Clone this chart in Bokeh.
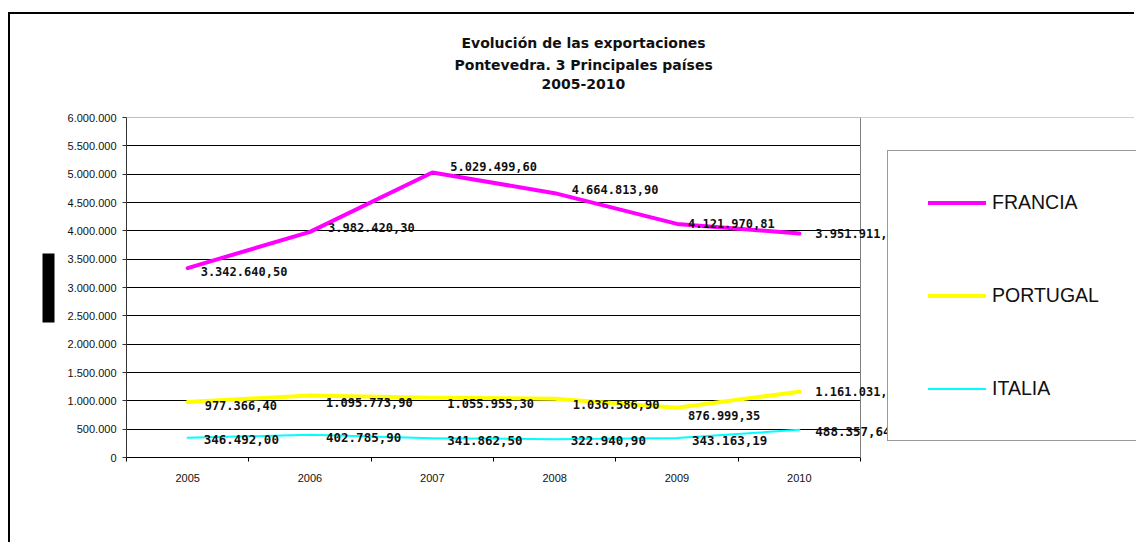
from bokeh.plotting import figure
from bokeh.models import (Range1d, FixedTicker, LinearAxis, ColumnDataSource, LabelSet,
                          Legend, LegendItem, BoxAnnotation, Span, Title,
                          CustomJSTickFormatter)
from bokeh.core.properties import value
from bokeh.embed import file_html
from bokeh.resources import INLINE

# ---------------- data ----------------
years = [2005, 2006, 2007, 2008, 2009, 2010]
francia = [3342640.50, 3982420.30, 5029499.60, 4664813.90, 4121970.81, 3951911.00]
portugal = [977366.40, 1095773.90, 1055955.30, 1036586.90, 876999.35, 1161031.00]
italia = [346492.00, 402785.90, 341862.50, 322940.90, 343163.19, 488357.64]
francia_labels = ["3.342.640,50", "3.982.420,30", "5.029.499,60", "4.664.813,90", "4.121.970,81", "3.951.911,"]
portugal_labels = ["977.366,40", "1.095.773,90", "1.055.955,30", "1.036.586,90", "876.999,35", "1.161.031,"]
italia_labels = ["346.492,00", "402.785,90", "341.862,50", "322.940,90", "343.163,19", "488.357,64"]
series_names = ["FRANCIA", "PORTUGAL", "ITALIA"]
y_ticks = [0, 500000, 1000000, 1500000, 2000000, 2500000, 3000000, 3500000,
           4000000, 4500000, 5000000, 5500000, 6000000]
title_lines = ["Evolución de las exportaciones",
               "Pontevedra. 3 Principales países",
               "2005-2010"]

# label placement (screen-pixel offsets from each point; style only)
francia_lbl_dx = [13, 18, 18, 17, 11, 16]
francia_lbl_dy = [-3, 4, 6, 4, 0, 0]
portugal_lbl_dx = [17, 16, 15, 18, 11, 16]
portugal_lbl_dy = [-3, -7, -6, -6, -8, 0]
italia_lbl_dx = [16, 16, 15, 16, 15, 16]
italia_lbl_dy = [-2, -3, -2, -1, -2, -2]

# ---------------- geometry (page pixels) ----------------
PL, PR, PT, PB = 126, 860, 117, 457     # plot area
ORIGIN_X, ORIGIN_Y = 10, 14             # canvas origin on the page
W, H = 1136 - ORIGIN_X, 530
FRAME_R = ORIGIN_X + W                  # frame runs to the right edge (legend sits inside)
X0, X1, Y0, Y1 = 2004.5, 2010.5, 0, 6000000
XPX = (PR - PL) / (X1 - X0)
YPX = (PB - PT) / (Y1 - Y0)


def dx(px):
    return X0 + (px - PL) / XPX


def dy(py):
    return Y0 + (PB - py) / YPX


p = figure(width=W, height=H, output_backend="svg", toolbar_location=None,
           x_range=Range1d(X0, dx(FRAME_R)), y_range=Range1d(Y0, Y1),
           x_axis_location=None, y_axis_location="left",
           min_border_left=PL - ORIGIN_X, min_border_right=0,
           min_border_top=PT - ORIGIN_Y, min_border_bottom=H - (PB - ORIGIN_Y))
p.styles = {"border-top": "2px solid #000", "border-left": "2px solid #000",
            "margin-top": "12px", "margin-left": "8px"}
p.background_fill_color = "white"
p.border_fill_color = "white"
p.outline_line_color = None

# y axis
yax = p.yaxis[0]
yax.ticker = FixedTicker(ticks=y_ticks)
yax.formatter = CustomJSTickFormatter(
    code="return tick.toFixed(0).replace(/\\B(?=(\\d{3})+(?!\\d))/g, '.');")
yax.major_tick_out = 4
yax.major_tick_in = 0
yax.minor_tick_line_color = None
yax.axis_line_color = "#333333"
yax.major_tick_line_color = "#333333"
yax.major_label_standoff = 6
yax.major_label_text_font = "Liberation Sans"
yax.major_label_text_font_size = "11px"
yax.major_label_text_color = "#111111"

# y axis title, shown as a solid black bar in the original
spacer = LinearAxis(ticker=FixedTicker(ticks=[Y0]), axis_line_color=None,
                    formatter=CustomJSTickFormatter(code="return ''"),
                    major_label_text_font_size="1px", major_label_standoff=0,
                    major_tick_out=16, major_tick_in=0, minor_tick_line_color=None,
                    major_tick_line_color=None)
bar = LinearAxis(ticker=FixedTicker(ticks=[]), axis_line_color="#000000",
                 axis_line_width=12, bounds=(dy(322), dy(253)),
                 major_tick_out=0, major_tick_in=0, minor_tick_line_color=None,
                 major_tick_line_color=None)
p.add_layout(spacer, "left")
p.add_layout(bar, "left")

p.ygrid.ticker = FixedTicker(ticks=y_ticks)
p.ygrid.grid_line_color = "#000000"
p.ygrid.grid_line_width = 1
p.xgrid.visible = False

# x axes: ticks between categories + year labels
tick_axis = LinearAxis(ticker=FixedTicker(ticks=[X0 + i for i in range(7)]),
                       formatter=CustomJSTickFormatter(code="return ''"),
                       bounds=(X0, X1),
                       major_tick_out=4, major_tick_in=0,
                       minor_tick_line_color=None,
                       axis_line_color="#000000", major_tick_line_color="#000000",
                       major_label_standoff=0, major_label_text_font_size="1px")
label_axis = LinearAxis(ticker=FixedTicker(ticks=years),
                        axis_line_color=None, major_tick_line_color=None,
                        minor_tick_line_color=None,
                        major_tick_out=0, major_tick_in=0,
                        major_label_standoff=12,
                        major_label_text_font="Liberation Sans",
                        major_label_text_font_size="11px",
                        major_label_text_color="#111111")
p.add_layout(tick_axis, "below")
p.add_layout(label_axis, "below")

# lines
colors = ["#FF00FF", "#FFFF00", "#00FFFF"]
widths = [4, 4, 2]
series = [francia, portugal, italia]
renderers = []
for vals, c, w in zip(series, colors, widths):
    r = p.line(years, vals, line_color=c, line_width=w, line_join="round", line_cap="round")
    renderers.append(r)

# plot-area border: gray top edge, white area right of the plot area, gray right edge
p.add_layout(Span(location=Y1, dimension="width", line_color="#808080", line_width=1))
p.add_layout(BoxAnnotation(left=X1, fill_color="white", fill_alpha=1, line_color=None))
p.add_layout(Span(location=X1, dimension="height", line_color="#808080", line_width=1))

# data labels
label_sets = [(francia, francia_labels, francia_lbl_dx, francia_lbl_dy, "12px"),
              (portugal, portugal_labels, portugal_lbl_dx, portugal_lbl_dy, "12px"),
              (italia, italia_labels, italia_lbl_dx, italia_lbl_dy, "12.5px")]
for vals, labs, ox, oy, fs in label_sets:
    src = ColumnDataSource(dict(x=years, y=vals, t=labs, ox=ox, oy=oy))
    p.add_layout(LabelSet(x="x", y="y", text="t", source=src, x_offset="ox", y_offset="oy",
                          text_font=value("DejaVu Sans Mono"), text_font_style="bold",
                          text_font_size=fs, text_color="#111111",
                          text_align="left", text_baseline="middle"))

# title (three lines) above a spacer
title_spacer = LinearAxis(ticker=FixedTicker(ticks=[X0]), axis_line_color=None,
                          formatter=CustomJSTickFormatter(code="return ''"),
                          major_label_text_font_size="1px", major_label_standoff=0,
                          major_tick_out=27, major_tick_in=0, minor_tick_line_color=None,
                          major_tick_line_color=None)
p.add_layout(title_spacer, "above")
title_offsets = [335, 328, 415]
for txt, off in reversed(list(zip(title_lines, title_offsets))):
    p.add_layout(Title(text=txt, align="left", offset=off, standoff=4,
                       text_font="DejaVu Sans", text_font_style="bold",
                       text_font_size="14px", text_color="#111111"), "above")

# legend (inside the frame, its right side runs off the page like the original)
legend = Legend(items=[LegendItem(label=n, renderers=[r]) for n, r in zip(series_names, renderers)],
                location=(887 - PL, PB - 441), orientation="vertical",
                padding=40, spacing=70, glyph_width=58, glyph_height=23,
                label_height=23, label_width=200, label_standoff=6,
                label_text_font="Liberation Sans", label_text_font_size="19.5px",
                label_text_color="#111111",
                border_line_color="#333333", border_line_width=1,
                background_fill_color="white", background_fill_alpha=1,
                margin=0)
p.add_layout(legend, "center")

open("out.html", "w").write(file_html(p, INLINE))
